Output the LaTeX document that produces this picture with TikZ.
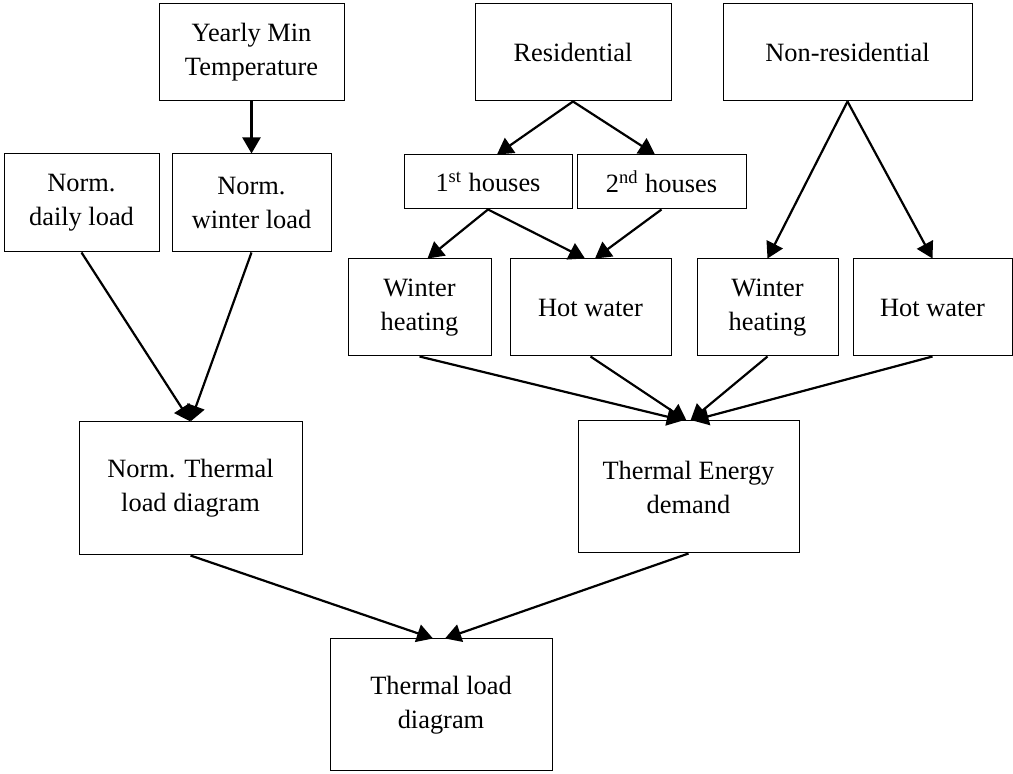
\documentclass[tikz,border=0pt]{standalone}
\usepackage{fontspec}
\setmainfont{Liberation Serif}
\usetikzlibrary{arrows.meta}

\begin{document}
\begin{tikzpicture}[x=0.5pt,y=-0.5pt,
  box/.style 2 args={draw,line width=0.5pt,align=center,inner sep=0pt,
    minimum width=#1,minimum height=#2,font=\fontsize{13.2}{17}\selectfont},
  flow/.style={line width=1.1pt,-{Triangle[length=8pt,width=9pt]}}]
\useasboundingbox (0,0) rectangle (1013,774);
\node [box={92.5pt}{48.5pt}] (yearly) at (251.5,52.5) {Yearly Min\\Temperature};
\node [box={77.5pt}{49pt}] (daily) at (81.5,203) {Norm.\\daily load};
\node [box={79.5pt}{49pt}] (winter) at (251.5,203) {Norm.\\winter load};
\node [box={98pt}{48.5pt}] (resid) at (573,52.5) {Residential};
\node [box={124.5pt}{48.5pt}] (nonres) at (847.5,52.5) {Non-residential};
\node [box={84pt}{27pt}] (first) at (488,182) {1\textsuperscript{st} houses};
\node [box={84.5pt}{27pt}] (second) at (661.5,182) {2\textsuperscript{nd} houses};
\node [box={71.5pt}{48.5pt}] (heatres) at (419.5,307.5) {Winter\\heating};
\node [box={80.5pt}{48.5pt}] (waterres) at (590.5,307.5) {Hot water};
\node [box={70.5pt}{48.5pt}] (heatnon) at (767.5,307.5) {Winter\\heating};
\node [box={79.5pt}{48.5pt}] (waternon) at (932.5,307.5) {Hot water};
\node [box={111.5pt}{66.5pt}] (normdiag) at (190.5,488.5) {Norm. Thermal\\load diagram};
\node [box={110.5pt}{66pt}] (energy) at (688.5,487) {Thermal Energy\\demand};
\node [box={111pt}{66pt}] (loaddiag) at (441,705) {Thermal load\\diagram};
\draw[flow] (yearly.south) -- (winter.north);
\draw[flow] (daily.south) -- (normdiag.north);
\draw[flow] (winter.south) -- (normdiag.north);
\draw[flow] (resid.south) -- ([xshift=4.5pt]first.north);
\draw[flow] (resid.south) -- ([xshift=-3.25pt]second.north);
\draw[flow] (first.south) -- ([xshift=4pt]heatres.north);
\draw[flow] (first.south) -- ([xshift=-2.75pt]waterres.north);
\draw[flow] (second.south) -- ([xshift=2.25pt]waterres.north);
\draw[flow] (nonres.south) -- (heatnon.north);
\draw[flow] (nonres.south) -- (waternon.north);
\draw[flow] (heatres.south) -- ([xshift=-2.75pt]energy.north);
\draw[flow] (waterres.south) -- ([xshift=-1pt]energy.north);
\draw[flow] (heatnon.south) -- ([xshift=1pt]energy.north);
\draw[flow] (waternon.south) -- ([xshift=2pt]energy.north);
\draw[flow] (normdiag.south) -- ([xshift=-4pt]loaddiag.north);
\draw[flow] (energy.south) -- ([xshift=2pt]loaddiag.north);
\end{tikzpicture}
\end{document}
